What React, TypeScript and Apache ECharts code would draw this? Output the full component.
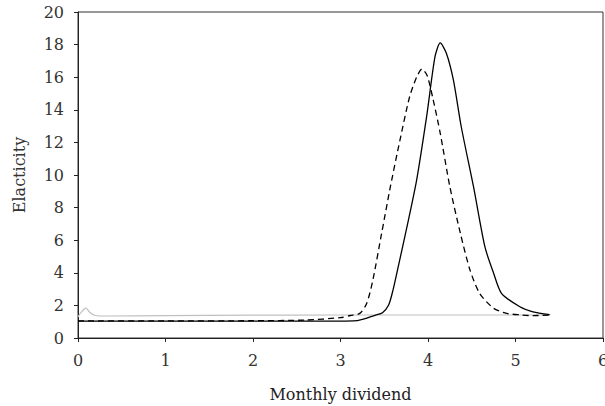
import React, { useEffect, useRef } from "react";
import * as echarts from "echarts";

const grayX = [0, 0.04, 0.09, 0.14, 0.2, 0.3, 1, 2, 3, 4, 5, 5.4];
const grayY = [1.3, 1.6, 1.83, 1.55, 1.38, 1.35, 1.37, 1.4, 1.41, 1.41, 1.41, 1.41];

const solidX = [0, 1, 2, 3, 3.15, 3.25, 3.4, 3.48, 3.55, 3.6, 3.66, 3.76, 3.87, 3.99, 4.08, 4.14, 4.21, 4.29, 4.38, 4.52, 4.65, 4.75, 4.84, 5.05, 5.2, 5.39];
const solidY = [1.04, 1.04, 1.04, 1.04, 1.05, 1.15, 1.4, 1.55, 2.02, 2.94, 4.38, 6.83, 9.69, 13.8, 17.26, 18.1, 17.47, 15.83, 12.96, 9.28, 5.6, 3.97, 2.74, 1.92, 1.61, 1.43];

const dashX = [0, 1, 2, 2.6, 3.0, 3.11, 3.22, 3.3, 3.37, 3.47, 3.57, 3.68, 3.79, 3.87, 3.93, 3.99, 4.06, 4.14, 4.25, 4.37, 4.48, 4.59, 4.75, 4.9, 5.05, 5.2, 5.39];
const dashY = [1.05, 1.05, 1.06, 1.1, 1.25, 1.38, 1.51, 2.13, 3.56, 6.42, 9.28, 12.15, 14.8, 16.0, 16.5, 16.1, 14.6, 12.56, 9.28, 6.42, 4.17, 2.74, 1.82, 1.51, 1.42, 1.37, 1.41];

const zip = (xs: number[], ys: number[]) => xs.map((x, i) => [x, ys[i]]);

const FONT = "DejaVu Serif";

export default function App() {
  const ref = useRef<HTMLDivElement>(null);
  useEffect(() => {
    if (!ref.current) return;
    const chart = echarts.init(ref.current, undefined, { renderer: "svg" });
    chart.setOption({
      animation: false,
      backgroundColor: "#fff",
      textStyle: { fontFamily: FONT },
      grid: {
        left: 78,
        top: 12,
        width: 525,
        height: 326,
        containLabel: false,
        outerBoundsMode: "none",
        show: true,
        borderColor: "#333",
        borderWidth: 1,
        backgroundColor: "transparent",
      },
      xAxis: {
        type: "value",
        min: 0,
        max: 6,
        interval: 1,
        name: "Monthly dividend",
        nameLocation: "middle",
        nameGap: 48,
        nameTextStyle: { fontFamily: FONT, fontSize: 16, color: "#222" },
        axisLine: { show: true, lineStyle: { color: "#222", width: 1 } },
        axisTick: { show: true, length: 4, inside: false, lineStyle: { color: "#222" } },
        axisLabel: { fontFamily: FONT, fontSize: 16, color: "#333", margin: 14, hideOverlap: false },
        splitLine: { show: false },
      },
      yAxis: {
        type: "value",
        min: 0,
        max: 20,
        interval: 2,
        name: "Elacticity",
        nameLocation: "middle",
        nameGap: 51,
        nameTextStyle: { fontFamily: FONT, fontSize: 16, color: "#333" },
        axisLine: { show: true, lineStyle: { color: "#222", width: 1 } },
        axisTick: { show: true, length: 4, inside: false, lineStyle: { color: "#222" } },
        axisLabel: { fontFamily: FONT, fontSize: 16, color: "#333", margin: 14 },
        splitLine: { show: false },
      },
      series: [
        {
          type: "line",
          data: zip(grayX, grayY),
          smooth: 0.3,
          showSymbol: false,
          lineStyle: { color: "#c0c0c0", width: 1.2 },
        },
        {
          type: "line",
          data: zip(dashX, dashY),
          smooth: 0.25,
          showSymbol: false,
          lineStyle: { color: "#000", width: 1.3, type: [6, 4] },
        },
        {
          type: "line",
          data: zip(solidX, solidY),
          smooth: 0.25,
          showSymbol: false,
          lineStyle: { color: "#000", width: 1.3 },
        },
      ],
    });
    return () => chart.dispose();
  }, []);
  return <div ref={ref} style={{ width: 605, height: 406, position: "absolute", left: 0, top: 0 }} />;
}
